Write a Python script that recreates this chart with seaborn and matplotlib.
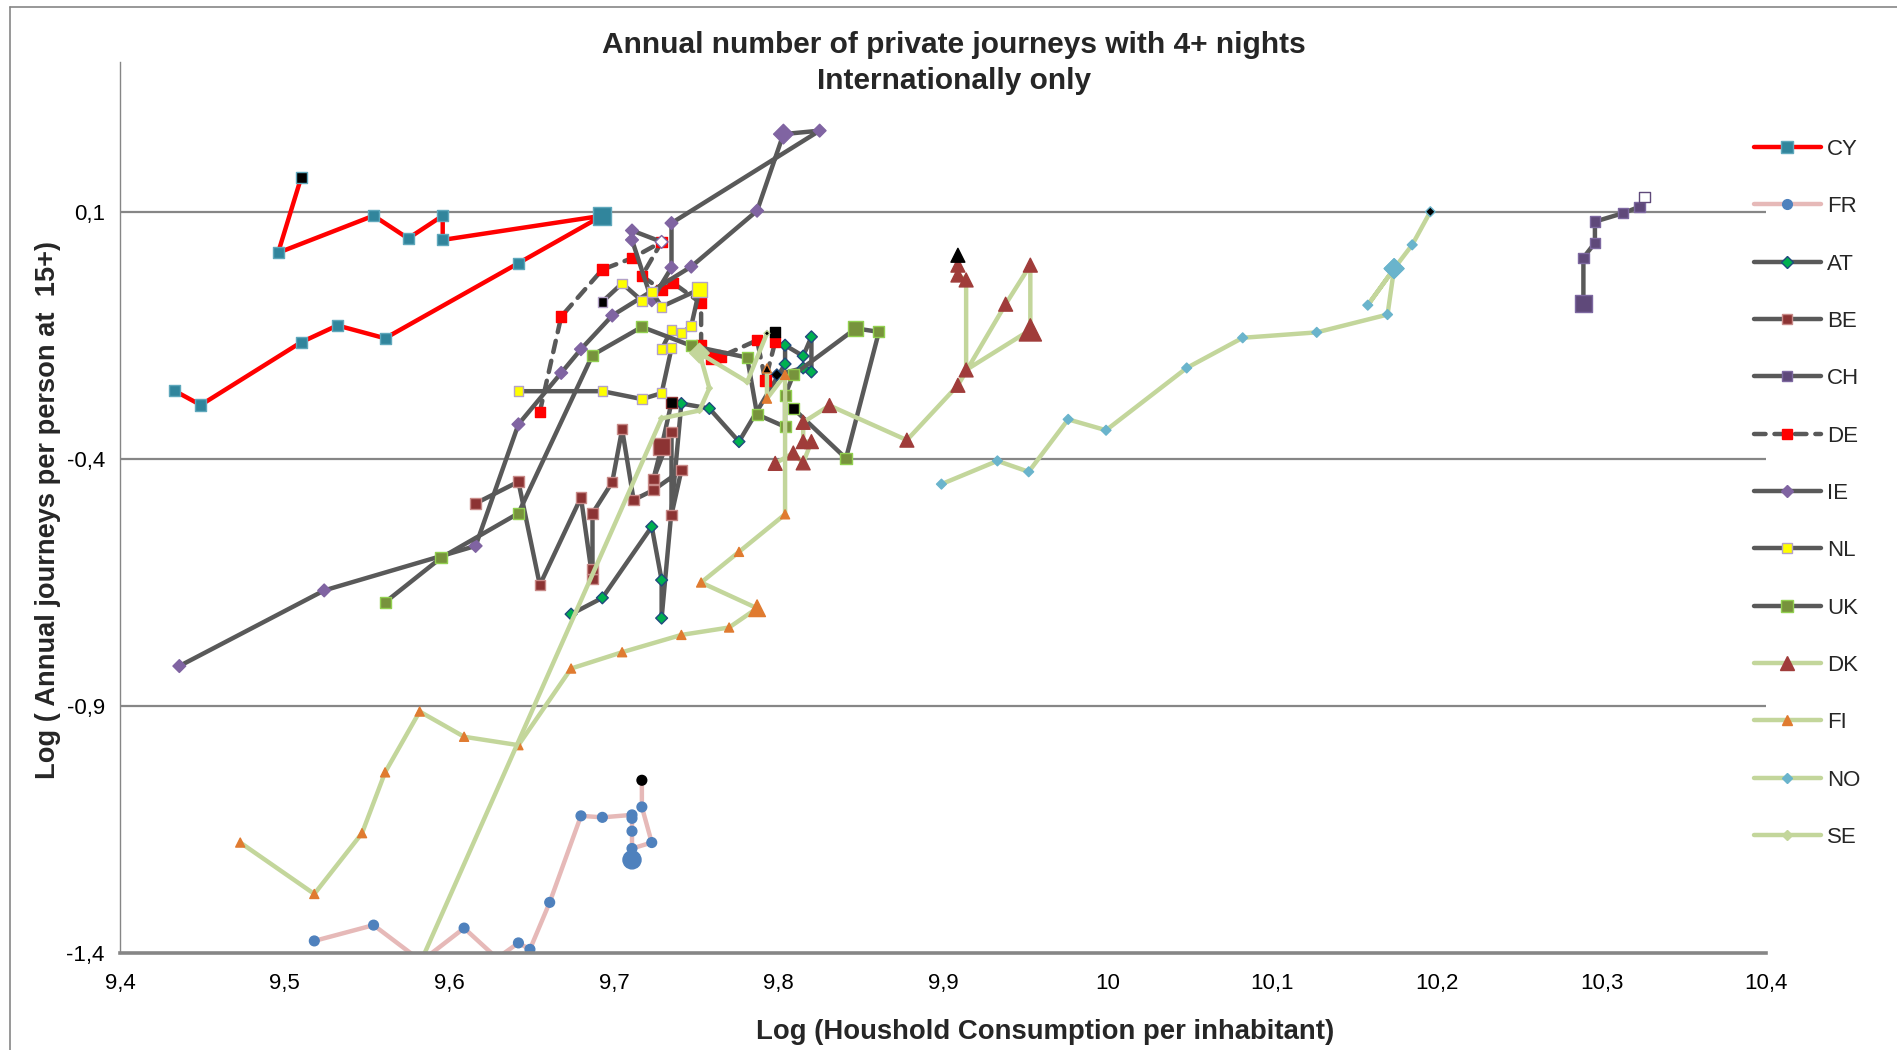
import numpy as np
import pandas as pd
import matplotlib
matplotlib.use("Agg")
import matplotlib.pyplot as plt
import seaborn as sns
from matplotlib.lines import Line2D

sns.set_theme(style="white")
plt.rcParams["font.family"] = ["Liberation Sans", "DejaVu Sans"]

# ---- data: log household consumption (x) vs log annual journeys (y) ----
cy_x = [9.433, 9.449, 9.510, 9.532, 9.561, 9.642, 9.693, 9.596, 9.596, 9.575, 9.554, 9.496, 9.510]
cy_y = [-0.262, -0.291, -0.164, -0.130, -0.156, -0.004, 0.092, 0.043, 0.092, 0.046, 0.092, 0.017, 0.169]

fr_x = [9.518, 9.554, 9.583, 9.609, 9.629, 9.642, 9.649, 9.661, 9.680, 9.693, 9.711, 9.711, 9.711, 9.711, 9.711, 9.723, 9.717, 9.717]
fr_y = [-1.375, -1.343, -1.416, -1.349, -1.410, -1.379, -1.392, -1.297, -1.122, -1.125, -1.120, -1.127, -1.153, -1.211, -1.188, -1.176, -1.104, -1.050]

at_x = [9.674, 9.693, 9.723, 9.729, 9.729, 9.741, 9.758, 9.776, 9.804, 9.804, 9.815, 9.820, 9.820, 9.815, 9.799]
at_y = [-0.714, -0.681, -0.537, -0.645, -0.722, -0.288, -0.298, -0.365, -0.208, -0.170, -0.192, -0.153, -0.224, -0.216, -0.230]

be_x = [9.616, 9.642, 9.655, 9.680, 9.687, 9.687, 9.687, 9.699, 9.705, 9.712, 9.724, 9.741, 9.735, 9.735, 9.724, 9.729, 9.735]
be_y = [-0.490, -0.446, -0.655, -0.478, -0.643, -0.623, -0.510, -0.447, -0.340, -0.483, -0.463, -0.423, -0.513, -0.345, -0.441, -0.375, -0.286]

ch_x = [10.289, 10.289, 10.296, 10.296, 10.313, 10.323, 10.326]
ch_y = [-0.085, 0.007, 0.037, 0.080, 0.097, 0.110, 0.130]

de_x = [9.655, 9.668, 9.693, 9.711, 9.729, 9.717, 9.729, 9.736, 9.753, 9.753, 9.760, 9.765, 9.787, 9.792, 9.798, 9.798]
de_y = [-0.305, -0.112, -0.017, 0.006, 0.039, -0.030, -0.058, -0.044, -0.085, -0.170, -0.194, -0.193, -0.160, -0.241, -0.163, -0.143]

ie_x = [9.436, 9.524, 9.616, 9.642, 9.668, 9.680, 9.699, 9.747, 9.787, 9.803, 9.825, 9.735, 9.735, 9.723, 9.711, 9.711, 9.729]
ie_y = [-0.819, -0.666, -0.576, -0.330, -0.226, -0.178, -0.110, -0.011, 0.102, 0.257, 0.264, 0.077, -0.013, -0.079, 0.043, 0.062, 0.039]

nl_x = [9.642, 9.693, 9.717, 9.729, 9.735, 9.729, 9.735, 9.741, 9.747, 9.752, 9.729, 9.723, 9.717, 9.705, 9.693]
nl_y = [-0.263, -0.263, -0.279, -0.267, -0.176, -0.178, -0.139, -0.146, -0.131, -0.057, -0.092, -0.062, -0.080, -0.045, -0.082]

uk_x = [9.561, 9.595, 9.642, 9.687, 9.717, 9.747, 9.781, 9.787, 9.804, 9.804, 9.809, 9.847, 9.861, 9.841, 9.809]
uk_y = [-0.690, -0.600, -0.510, -0.190, -0.133, -0.171, -0.195, -0.310, -0.335, -0.271, -0.230, -0.136, -0.143, -0.399, -0.298]

dk_x = [9.798, 9.809, 9.815, 9.820, 9.815, 9.815, 9.831, 9.878, 9.909, 9.938, 9.953, 9.953, 9.914, 9.914, 9.909, 9.909, 9.909]
dk_y = [-0.409, -0.388, -0.408, -0.365, -0.365, -0.326, -0.292, -0.362, -0.251, -0.087, -0.008, -0.139, -0.220, -0.038, -0.028, -0.008, 0.012]

fi_x = [9.473, 9.518, 9.547, 9.561, 9.582, 9.609, 9.642, 9.674, 9.705, 9.741, 9.770, 9.787, 9.753, 9.776, 9.804, 9.804, 9.793, 9.793]
fi_y = [-1.176, -1.280, -1.157, -1.034, -0.911, -0.962, -0.979, -0.824, -0.791, -0.756, -0.741, -0.702, -0.650, -0.588, -0.512, -0.230, -0.278, -0.217]

no_x = [9.899, 9.933, 9.952, 9.976, 9.999, 10.048, 10.082, 10.127, 10.170, 10.174, 10.158, 10.174, 10.185, 10.196]
no_y = [-0.451, -0.404, -0.426, -0.320, -0.342, -0.216, -0.155, -0.144, -0.108, -0.015, -0.089, -0.015, 0.033, 0.100]

se_x = [9.577, 9.729, 9.752, 9.758, 9.752, 9.781, 9.793]
se_y = [-1.460, -0.318, -0.302, -0.257, -0.186, -0.244, -0.146]

countries = ["CY", "FR", "AT", "BE", "CH", "DE", "IE", "NL", "UK", "DK", "FI", "NO", "SE"]
xs = [cy_x, fr_x, at_x, be_x, ch_x, de_x, ie_x, nl_x, uk_x, dk_x, fi_x, no_x, se_x]
ys = [cy_y, fr_y, at_y, be_y, ch_y, de_y, ie_y, nl_y, uk_y, dk_y, fi_y, no_y, se_y]

x_ticks = [9.4, 9.5, 9.6, 9.7, 9.8, 9.9, 10.0, 10.1, 10.2, 10.3, 10.4]
y_ticks = [0.1, -0.4, -0.9, -1.4]

# ---- styles ----
GRAY = "#595959"
LGREEN = "#C3D69B"
styles = {
    "CY": dict(line="#FF0000", ls="-", m="s", fc="#31859C", ec="#5FA8BC", ms=8, big=6, bms=13, last=12, lfc="black", lec="#5FA8BC"),
    "FR": dict(line="#E6B9B8", ls="-", m="o", fc="#4F81BD", ec="#4F81BD", ms=7, big=13, bms=13, last=17, lfc="black", lec="black"),
    "AT": dict(line=GRAY, ls="-", m="D", fc="#00B050", ec="#1F497D", ms=6, big=None, bms=6, last=14, lfc="black", lec="#1F497D"),
    "BE": dict(line=GRAY, ls="-", m="s", fc="#8C3333", ec="#C88A88", ms=7.5, big=15, bms=12, last=16, lfc="black", lec="#8C3333"),
    "CH": dict(line=GRAY, ls="-", m="s", fc="#5F497A", ec="#7D68A0", ms=7.5, big=0, bms=12, last=6, lfc="white", lec="#5F497A"),
    "DE": dict(line=GRAY, ls=(0, (2.6, 2.0)), m="s", fc="#FF0000", ec="#FF0000", ms=7.5, big=10, bms=10, last=15, lfc="black", lec="black"),
    "IE": dict(line=GRAY, ls="-", m="D", fc="#8064A2", ec="#8064A2", ms=6.5, big=9, bms=10, last=16, lfc="white", lec="#8064A2"),
    "NL": dict(line=GRAY, ls="-", m="s", fc="#FFFF00", ec="#B3A2C7", ms=7, big=9, bms=11, last=14, lfc="black", lec="#B3A2C7"),
    "UK": dict(line=GRAY, ls="-", m="s", fc="#77933C", ec="#92D050", ms=8, big=11, bms=11, last=14, lfc="black", lec="#92D050"),
    "DK": dict(line=LGREEN, ls="-", m="^", fc="#A03C3A", ec="#A03C3A", ms=10, big=11, bms=16, last=16, lfc="black", lec="black"),
    "FI": dict(line=LGREEN, ls="-", m="^", fc="#E07B30", ec="#E07B30", ms=6.5, big=11, bms=12, last=17, lfc="black", lec="#E07B30"),
    "NO": dict(line=LGREEN, ls="-", m="D", fc="#6AB4CC", ec="#6AB4CC", ms=5, big=9, bms=10, last=13, lfc="black", lec="#6AB4CC"),
    "SE": dict(line=LGREEN, ls="-", m="D", fc=LGREEN, ec=LGREEN, ms=3, big=4, bms=10, last=6, lfc="black", lec=LGREEN),
}

fig = plt.figure(figsize=(18.97, 10.5), dpi=100)
ax = fig.add_axes([0.0633, 0.0921, 0.9310 - 0.0633, 0.9412 - 0.0921])

for i, (name, x, y) in enumerate(zip(countries, xs, ys)):
    st = styles[name]
    z = 3 + 2 * i
    df = pd.DataFrame({"x": x, "y": y})
    sns.lineplot(data=df, x="x", y="y", sort=False, estimator=None, ax=ax,
                 color=st["line"], linewidth=3.2, linestyle=st["ls"],
                 solid_capstyle="round", dash_capstyle="round",
                 solid_joinstyle="round", zorder=z, legend=False)
    n = len(x)
    sizes = np.full(n, st["ms"], dtype=float)
    fcs = [st["fc"]] * n
    ecs = [st["ec"]] * n
    if st["big"] is not None:
        sizes[st["big"]] = st["bms"]
        if name == "NO":
            sizes[11] = st["bms"]
    fcs[st["last"]] = st["lfc"]
    ecs[st["last"]] = st["lec"]
    ax.scatter(x, y, s=sizes ** 2, marker=st["m"], c=fcs, edgecolors=ecs,
               linewidths=1.0, zorder=z + 1)

ax.set_xlim(9.4, 10.4)
ax.set_ylim(-1.4, 0.4034)
ax.set_xticks(x_ticks)
ax.set_xticklabels([("%g" % round(v, 1)).replace(".", ",") for v in x_ticks])
ax.set_yticks(y_ticks)
ax.set_yticklabels([("%g" % v).replace(".", ",") for v in y_ticks])
ax.set_xlabel("")
ax.set_ylabel("")

ax.grid(False)
for v in y_ticks[:-1]:
    ax.axhline(v, color="#868686", lw=1.6, zorder=1)
for side in ["top", "right"]:
    ax.spines[side].set_visible(False)
ax.spines["left"].set_color("#868686")
ax.spines["left"].set_linewidth(1.0)
ax.spines["bottom"].set_color("#868686")
ax.spines["bottom"].set_linewidth(2.6)
ax.spines["bottom"].set_zorder(40)
ax.tick_params(axis="both", direction="out", length=6, width=1.0, color="#868686",
               labelsize=16, labelcolor="black")
ax.tick_params(axis="x", pad=8)
ax.tick_params(axis="y", pad=5)

fig.text(0.503, 0.957, "Annual number of private journeys with 4+ nights",
         ha="center", va="center", fontsize=21.5, weight="bold")
fig.text(0.503, 0.923, "Internationally only", ha="center", va="center",
         fontsize=21.5, weight="bold")
fig.text(0.551, 0.017, "Log (Houshold Consumption per inhabitant)", ha="center",
         va="center", fontsize=19.8, weight="bold")
fig.text(0.0253, 0.514, "Log ( Annual journeys per person at  15+)", ha="center",
         va="center", rotation=90, fontsize=19.6, weight="bold")

# chart area border
fig.add_artist(Line2D([0.0051, 1.0], [0.993, 0.993], transform=fig.transFigure,
                      color="#868686", lw=1.2))
fig.add_artist(Line2D([0.0051, 0.0051], [0.0, 0.993], transform=fig.transFigure,
                      color="#868686", lw=1.2))

handles = []
for name in countries:
    st = styles[name]
    handles.append(Line2D([0], [0], color=st["line"], lw=3.2, linestyle=st["ls"],
                          solid_capstyle="round", dash_capstyle="round",
                          marker=st["m"], markerfacecolor=st["fc"],
                          markeredgecolor=st["ec"], markersize=max(st["ms"], 5)))
fig.legend(handles, countries, loc="upper left", bbox_to_anchor=(0.9246, 0.8677),
           frameon=False, fontsize=16, handlelength=3.0, handletextpad=0.3,
           labelspacing=1.635, borderpad=0, borderaxespad=0)

fig.savefig("out.png", dpi=100)
